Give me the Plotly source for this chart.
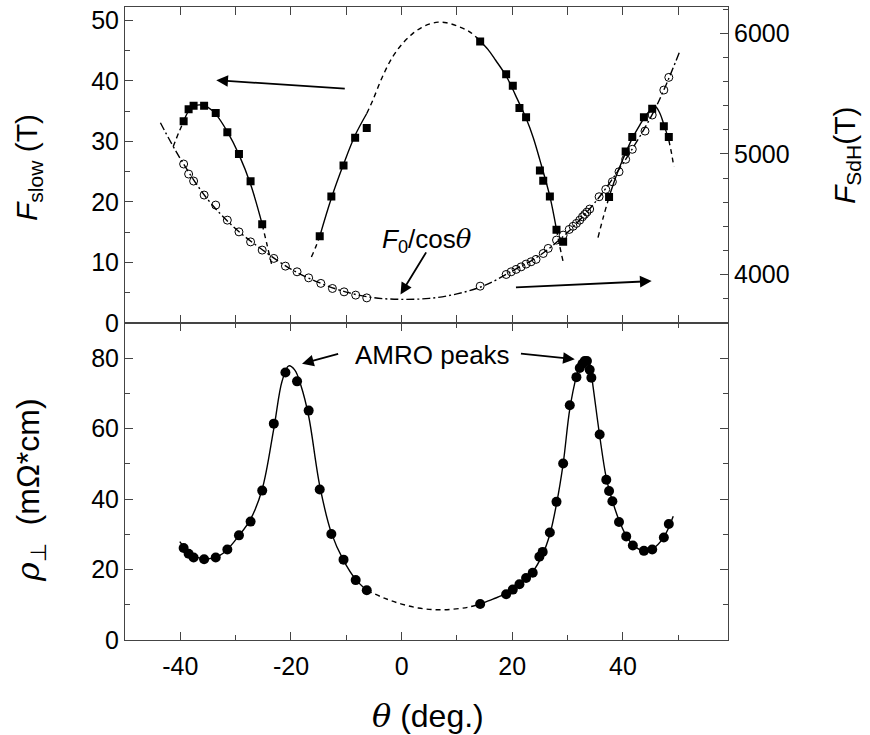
import plotly.graph_objects as go

# ---------------- data ----------------
x_tickvals = [-40, -20, 0, 20, 40]
x_ticktext = ["-40", "-20", "0", "20", "40"]

# F_slow squares (left axis, top panel)
sq_theta = [-39.4, -38.5, -37.6, -35.7, -33.6, -31.5, -29.4, -27.3, -25.2,
            -14.8, -12.7, -10.5, -8.4, -6.3,
            14.2, 18.9, 20.1, 21.3, 22.5, 25.0, 25.6, 26.8, 28.0, 29.2,
            37.5, 40.5, 41.7, 43.8, 45.3, 47.4, 48.3]
sq_F = [33.3, 35.3, 35.9, 35.9, 34.7, 31.5, 27.9, 23.4, 16.3,
        14.3, 20.9, 26.0, 30.6, 32.2,
        46.5, 41.1, 39.2, 35.5, 34.0, 25.2, 23.5, 20.9, 15.4, 13.4,
        20.8, 28.3, 30.7, 34.0, 35.4, 32.5, 30.7]

# F_SdH open circles (right axis, top panel)
oc_theta = [-39.4, -38.5, -37.6, -35.7, -33.6, -31.5, -29.4, -27.3, -25.2, -23.1,
            -21.0, -18.9, -16.8, -14.6, -12.5, -10.4, -8.3, -6.3,
            14.2, 18.9, 19.8, 20.7, 21.6, 22.5, 23.4, 24.3, 25.6, 26.5, 28.0, 29.2,
            30.3, 31.0, 31.6, 32.2, 32.7, 33.1, 33.5, 34.0, 35.7, 36.9, 38.1, 39.3,
            40.5, 41.7, 44.0, 45.3, 47.4, 48.3]
oc_F = [4916, 4833, 4775, 4659, 4576, 4451, 4354, 4271, 4203, 4134,
        4070, 4023, 3973, 3927, 3885, 3857, 3830, 3807,
        3904, 4001, 4023, 4043, 4064, 4087, 4106, 4126, 4175, 4217, 4286, 4327,
        4374, 4400, 4424, 4451, 4479, 4499, 4518, 4543, 4645, 4706, 4769, 4852,
        4955, 5038, 5189, 5322, 5529, 5634]

# rho_perp filled circles (bottom panel)
fc_theta = [-39.4, -38.5, -37.6, -35.7, -33.6, -31.5, -29.4, -27.3, -25.2, -23.1,
            -21.0, -18.9, -16.8, -14.8, -12.7, -10.5, -8.3, -6.3,
            14.2, 18.9, 20.1, 21.3, 22.5, 23.7, 24.9, 25.5, 26.8, 28.0, 29.2, 30.4,
            31.6, 32.2, 32.7, 33.1, 33.5, 34.0, 34.3, 35.8, 37.0, 37.5, 38.1, 39.3,
            40.6, 41.8, 43.8, 45.3, 47.4, 48.3]
fc_rho = [26.1, 24.5, 23.4, 22.9, 23.4, 25.7, 29.7, 33.6, 42.4, 61.4,
          75.9, 73.4, 65.1, 42.7, 30.1, 22.8, 17.0, 14.1,
          10.2, 13.0, 14.3, 15.8, 17.6, 19.1, 23.6, 25.0, 30.5, 39.2, 50.1, 66.6,
          74.6, 77.2, 78.4, 79.2, 79.2, 76.7, 74.4, 58.3, 45.5, 42.3, 39.4, 33.5,
          29.4, 26.8, 25.3, 25.7, 29.1, 32.9]

# guide curves
cosfit_theta = [-43.6, -40, -35, -30, -25, -20, -15, -10, -5, 0, 5, 10, 15, 20,
                25, 30, 35, 40, 45, 47.5, 50.2]
cosfit_F = [5258, 4960, 4620, 4380, 4200, 4045, 3935, 3855, 3808, 3795, 3803, 3840,
            3910, 4030, 4160, 4350, 4600, 4920, 5300, 5540, 5840]

left_dash1_t = [-41.3, -40.3, -39.4]
left_dash1_F = [29.1, 31.4, 33.3]
left_solid_t = [-39.4, -38.5, -37.3, -36.2, -35.0, -33.6, -31.5, -29.4, -27.3, -25.2]
left_solid_F = [33.3, 35.0, 35.9, 36.0, 35.6, 34.5, 31.6, 27.8, 22.9, 16.3]
left_dash2_t = [-25.2, -24.3, -23.4]
left_dash2_F = [16.3, 12.8, 9.3]

dome_dash1_t = [-16.3, -15.5, -14.8]
dome_dash1_F = [10.9, 12.6, 14.3]
dome_solid1_t = [-14.8, -12.7, -10.5, -8.4, -6.3]
dome_solid1_F = [14.3, 20.6, 26.2, 31.0, 34.6]
dome_dash2_t = [-6.3, -5.2, -3.5, -1.6, 0.2, 2.0, 3.6, 5.1, 6.6, 8.1, 10.2, 12.3, 14.2]
dome_dash2_F = [34.6, 36.8, 40.6, 44.0, 46.2, 47.8, 48.8, 49.4, 49.7, 49.6, 49.0, 48.1, 46.6]
dome_solid2_t = [14.2, 15.6, 17.0, 18.9, 20.6, 22.5, 23.8, 25.0, 26.8, 28.0]
dome_solid2_F = [46.6, 45.2, 43.4, 40.8, 37.6, 33.8, 30.6, 26.9, 20.9, 15.4]
dome_dash3_t = [28.0, 28.6, 29.2]
dome_dash3_F = [15.4, 12.6, 10.1]

right_dash1_t = [35.5, 36.5, 37.5]
right_dash1_F = [14.1, 17.6, 20.8]
right_solid_t = [37.5, 39.0, 40.5, 41.7, 43.0, 43.8, 44.8, 45.8, 46.6, 47.4, 48.3]
right_solid_F = [20.8, 24.8, 28.1, 30.5, 32.6, 33.8, 35.0, 35.8, 34.8, 32.8, 30.2]
right_dash2_t = [48.3, 48.8, 49.2]
right_dash2_F = [30.2, 28.0, 25.8]

rho_left_t = [-40.1, -38.5, -36.8, -35.2, -33.6, -32.0, -29.4, -27.3, -25.2, -23.1,
              -21.6, -20.4, -19.3, -18.2, -16.8, -14.8, -12.7, -10.5, -8.3, -6.3]
rho_left_v = [27.9, 25.0, 23.4, 23.0, 23.5, 24.9, 29.6, 34.3, 42.8, 60.0,
              73.5, 77.8, 76.6, 72.2, 63.5, 43.8, 30.4, 22.6, 17.2, 14.1]
rho_dash_t = [-6.3, -3.0, 0.0, 3.0, 6.0, 9.0, 12.0, 14.2]
rho_dash_v = [14.1, 11.8, 10.2, 9.1, 8.6, 8.7, 9.3, 10.2]
rho_right_t = [14.2, 16.5, 18.9, 21.3, 23.7, 25.5, 26.8, 28.0, 29.2, 30.4, 31.6,
               32.5, 33.3, 34.0, 34.6, 35.8, 37.0, 38.1, 39.3, 40.6, 41.8, 43.8,
               45.3, 47.4, 49.1]
rho_right_v = [10.2, 11.6, 13.2, 15.8, 19.4, 24.3, 30.0, 38.6, 50.0, 65.5, 74.8,
               79.0, 80.2, 78.4, 72.0, 58.0, 46.0, 39.5, 34.0, 29.6, 27.0, 25.3,
               25.8, 29.2, 35.1]

# ---------------- figure ----------------
fig = go.Figure()
LW = 1.4
DASH = "5px,4px"
DASHDOT = "8px,3px,2px,3px"


def line(xs, ys, dash, xaxis, yaxis):
    fig.add_trace(go.Scatter(x=xs, y=ys, mode="lines", xaxis=xaxis, yaxis=yaxis,
                             line=dict(color="black", width=LW, dash=dash,
                                       shape="spline", smoothing=1.0),
                             showlegend=False, hoverinfo="skip"))


# top panel, F_SdH (right axis y3)
line(cosfit_theta, cosfit_F, DASHDOT, "x2", "y3")
fig.add_trace(go.Scatter(x=oc_theta, y=oc_F, mode="markers", xaxis="x2", yaxis="y3",
                         marker=dict(symbol="circle-open", size=8, color="black",
                                     line=dict(width=1, color="black")),
                         showlegend=False))

# top panel, F_slow (left axis y2)
for xs, ys, d in [(left_dash1_t, left_dash1_F, DASH), (left_solid_t, left_solid_F, "solid"),
                  (left_dash2_t, left_dash2_F, DASH), (dome_dash1_t, dome_dash1_F, DASH),
                  (dome_solid1_t, dome_solid1_F, "solid"), (dome_dash2_t, dome_dash2_F, DASH),
                  (dome_solid2_t, dome_solid2_F, "solid"), (dome_dash3_t, dome_dash3_F, DASH),
                  (right_dash1_t, right_dash1_F, DASH), (right_solid_t, right_solid_F, "solid"),
                  (right_dash2_t, right_dash2_F, DASH)]:
    line(xs, ys, d, "x2", "y2")
fig.add_trace(go.Scatter(x=sq_theta, y=sq_F, mode="markers", xaxis="x2", yaxis="y2",
                         marker=dict(symbol="square", size=8, color="black"),
                         showlegend=False))

# bottom panel
line(rho_left_t, rho_left_v, "solid", "x", "y")
line(rho_dash_t, rho_dash_v, DASH, "x", "y")
line(rho_right_t, rho_right_v, "solid", "x", "y")
fig.add_trace(go.Scatter(x=fc_theta, y=fc_rho, mode="markers", xaxis="x", yaxis="y",
                         marker=dict(symbol="circle", size=10, color="black"),
                         showlegend=False))

FONT = "Liberation Sans, Arial, sans-serif"
TICKF = dict(family=FONT, size=25, color="black")
AXC = "#444444"
SPLIT = 0.501

common_x = dict(range=[-50, 59], ticks="inside", ticklen=8, tickwidth=1, tickcolor=AXC,
                showline=True, linecolor=AXC, linewidth=1, mirror="allticks",
                showgrid=False, zeroline=False, tickmode="array",
                tickvals=x_tickvals, ticktext=x_ticktext,
                minor=dict(ticks="inside", ticklen=5, dtick=10, tick0=0,
                           tickcolor=AXC, showgrid=False))

fig.update_layout(
    width=870, height=735,
    margin=dict(l=125, r=142, t=7, b=95),
    paper_bgcolor="white", plot_bgcolor="white",
    font=dict(family=FONT, color="black"),
    xaxis=dict(**common_x, anchor="y", domain=[0, 1], tickfont=TICKF, ticklabelstandoff=4),
    xaxis2=dict(**common_x, anchor="y2", domain=[0, 1], showticklabels=False, matches="x"),
    yaxis=dict(domain=[0, SPLIT], range=[0, 90], anchor="x", ticks="inside", ticklen=8,
               tickcolor=AXC, showline=True, linecolor=AXC, linewidth=1, mirror="allticks",
               showgrid=False, zeroline=False, tick0=0, dtick=20, tickfont=TICKF,
               minor=dict(ticks="inside", ticklen=5, dtick=10, tickcolor=AXC, showgrid=False)),
    yaxis2=dict(domain=[SPLIT, 1], range=[0, 52.2], anchor="x2", ticks="inside", ticklen=8,
                tickcolor=AXC, showline=True, linecolor=AXC, linewidth=1, mirror=False,
                showgrid=False, zeroline=False, tick0=0, dtick=10, tickfont=TICKF,
                minor=dict(ticks="inside", ticklen=5, dtick=5, tickcolor=AXC, showgrid=False)),
    yaxis3=dict(range=[3600, 6217], overlaying="y2", side="right", anchor="x2",
                ticks="inside", ticklen=8, tickcolor=AXC, showline=True, linecolor=AXC,
                linewidth=1, showgrid=False, zeroline=False, tick0=0, dtick=1000,
                tickfont=TICKF,
                minor=dict(ticks="inside", ticklen=5, dtick=200, tickcolor=AXC, showgrid=False)),
)

ANN = dict(family=FONT, size=26, color="black")
TITLE = dict(family=FONT, size=30, color="black")
TITLE2 = dict(family=FONT, size=32, color="black")
SERIF = "font-family:'DejaVu Serif','Liberation Serif',serif"
annotations = [
    # axis titles
    dict(text="<i>F</i><sub>slow</sub> (T)", xref="paper", yref="paper",
         x=(28 - 125) / 603, y=(640 - 168) / 633, textangle=-90, showarrow=False,
         xanchor="center", yanchor="middle", font=TITLE),
    dict(text=f"<span style=\"{SERIF}\"><i>ρ</i></span><sub>⊥</sub>  (mΩ*cm)",
         xref="paper", yref="paper",
         x=(30 - 125) / 603, y=(640 - 490) / 633, textangle=-90, showarrow=False,
         xanchor="center", yanchor="middle", font=TITLE2),
    dict(text="<i>F</i><sub>SdH</sub>(T)", xref="paper", yref="paper",
         x=(846 - 125) / 603, y=(640 - 155) / 633, textangle=-90, showarrow=False,
         xanchor="center", yanchor="middle", font=TITLE),
    dict(text=f"<span style=\"{SERIF}\"><i>θ</i></span> (deg.)", xref="paper", yref="paper",
         x=(428 - 125) / 603, y=(640 - 716) / 633, showarrow=False,
         xanchor="center", yanchor="middle", font=TITLE2),
    # text labels
    dict(text=f"<i>F</i><sub>0</sub>/cos<span style=\"{SERIF}\"><i>θ</i></span>",
         xref="x2", yref="y2", x=4.6, y=13.6, showarrow=False,
         xanchor="center", yanchor="middle", font=ANN),
    dict(text="AMRO peaks", xref="x", yref="y", x=5.5, y=80.8, showarrow=False,
         xanchor="center", yanchor="middle", font=ANN),
]
arrows = [
    ("x2", "y2", -10.0, 38.7, -33.5, 40.1),
    ("x2", "y2", 20.4, 5.85, 45.2, 6.9),
    ("x2", "y2", 4.6, 11.9, -0.2, 4.7),
    ("x", "y", -11.2, 81.3, -18.0, 78.4),
    ("x", "y", 21.3, 81.3, 31.3, 79.7),
]
for xr, yr, x0, y0, x1, y1 in arrows:
    annotations.append(dict(xref=xr, yref=yr, axref=xr, ayref=yr, ax=x0, ay=y0, x=x1, y=y1,
                            text="", showarrow=True, arrowhead=2, arrowsize=1.3,
                            arrowwidth=1.8, arrowcolor="black", standoff=0))
fig.update_layout(annotations=annotations)

fig.write_html("out.html")
